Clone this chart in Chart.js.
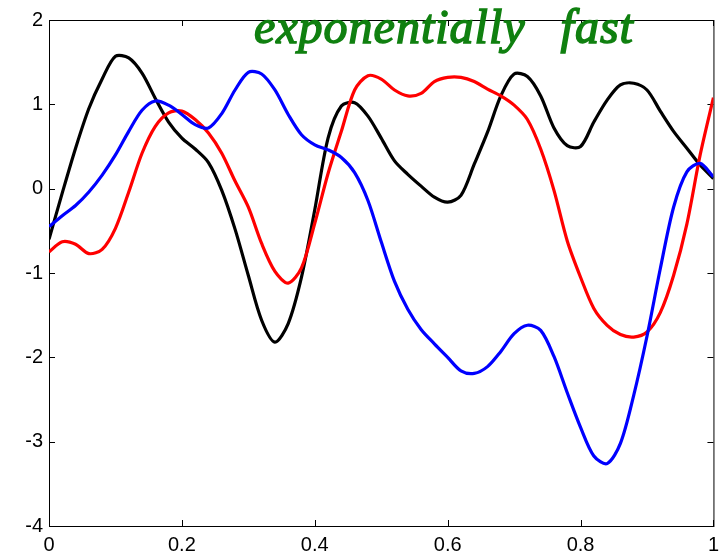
<!DOCTYPE html>
<html>
<head>
<meta charset="utf-8">
<script src="https://cdn.jsdelivr.net/npm/chart.js@4.4.1/dist/chart.umd.min.js"></script>
<style>
  body { margin: 0; background: #fff; }
  #wrap { position: relative; width: 726px; height: 552px; }
  #note {
    position: absolute; left: 254px; top: 4px;
    font: italic 48px "Liberation Serif", serif; line-height: 46px;
    letter-spacing: 1px; word-spacing: 22px;
    color: #108010; -webkit-text-stroke: 1.5px #108010; white-space: nowrap;
  }
</style>
</head>
<body>
<div id="wrap">
  <canvas id="plot" width="726" height="552"></canvas>
  <div id="note">exponentially fast</div>
</div>
<script>
// sample positions, step 0.02
const xs = [0, 0.02, 0.04, 0.06, 0.08, 0.1, 0.12, 0.14, 0.16, 0.18,
  0.2, 0.22, 0.24, 0.26, 0.28, 0.3, 0.32, 0.34, 0.36, 0.38,
  0.4, 0.42, 0.44, 0.46, 0.48, 0.5, 0.52, 0.54, 0.56, 0.58,
  0.6, 0.62, 0.64, 0.66, 0.68, 0.7, 0.72, 0.74, 0.76, 0.78,
  0.8, 0.82, 0.84, 0.86, 0.88, 0.9, 0.92, 0.94, 0.96, 0.98, 1];

const blackLine = [-0.6, -0.05, 0.48, 0.95, 1.3, 1.57, 1.55, 1.37, 1.07, 0.79,
  0.6, 0.47, 0.31, -0.02, -0.48, -1.03, -1.56, -1.82, -1.6, -1.05,
  -0.25, 0.6, 0.98, 1.02, 0.86, 0.6, 0.33, 0.17, 0.03, -0.1,
  -0.16, -0.08, 0.29, 0.67, 1.1, 1.36, 1.33, 1.1, 0.72, 0.51,
  0.5, 0.79, 1.05, 1.23, 1.25, 1.17, 0.92, 0.68, 0.48, 0.28, 0.12];

const blueLine = [-0.45, -0.32, -0.2, -0.04, 0.16, 0.4, 0.68, 0.93, 1.04, 0.99,
  0.88, 0.76, 0.72, 0.89, 1.17, 1.38, 1.36, 1.17, 0.88, 0.64,
  0.52, 0.46, 0.37, 0.19, -0.14, -0.63, -1.1, -1.43, -1.67, -1.84,
  -2.0, -2.16, -2.19, -2.11, -1.93, -1.72, -1.62, -1.68, -1.99, -2.42,
  -2.83, -3.17, -3.26, -3.02, -2.45, -1.75, -0.95, -0.22, 0.2, 0.3, 0.14];

const redLine = [-0.75, -0.63, -0.66, -0.77, -0.72, -0.47, -0.04, 0.42, 0.74, 0.9,
  0.92, 0.82, 0.66, 0.42, 0.09, -0.22, -0.65, -0.98, -1.12, -0.94,
  -0.41, 0.18, 0.68, 1.17, 1.34, 1.3, 1.17, 1.1, 1.13, 1.27,
  1.32, 1.32, 1.27, 1.18, 1.1, 0.99, 0.82, 0.47, -0.02, -0.62,
  -1.05, -1.42, -1.62, -1.73, -1.76, -1.7, -1.47, -1.03, -0.42, 0.4, 1.08];

const xTicks = [0, 0.2, 0.4, 0.6, 0.8, 1];
const yTicks = [-4, -3, -2, -1, 0, 1, 2];

function pts(ys) { return xs.map((x, i) => ({ x: x, y: ys[i] })); }

function line(ys, color) {
  return { data: pts(ys), borderColor: color, borderWidth: 3.2, pointRadius: 0, tension: 0.3, fill: false };
}

// box round the plot with short inward ticks on all four sides
const frameTicks = {
  id: 'frameTicks',
  beforeDatasetsDraw(chart) {
    const { ctx, chartArea: a, scales } = chart;
    const L = 6;
    ctx.save();
    ctx.strokeStyle = '#000';
    ctx.lineWidth = 1;
    ctx.strokeRect(a.left + 0.5, a.top + 0.5, a.right - a.left, a.bottom - a.top);
    ctx.beginPath();
    xTicks.forEach(v => {
      const p = Math.round(scales.x.getPixelForValue(v)) + 0.5;
      ctx.moveTo(p, a.bottom); ctx.lineTo(p, a.bottom - L);
      ctx.moveTo(p, a.top); ctx.lineTo(p, a.top + L);
    });
    yTicks.forEach(v => {
      const p = Math.round(scales.y.getPixelForValue(v)) + 0.5;
      ctx.moveTo(a.left, p); ctx.lineTo(a.left + L, p);
      ctx.moveTo(a.right, p); ctx.lineTo(a.right - L, p);
    });
    ctx.stroke();
    ctx.restore();
  }
};

const tickFont = { family: '"Liberation Sans", Arial, sans-serif', size: 20 };

new Chart(document.getElementById('plot'), {
  type: 'line',
  data: {
    datasets: [line(blueLine, '#0000ff'), line(redLine, '#ff0000'), line(blackLine, '#000000')]
  },
  options: {
    responsive: false,
    animation: false,
    layout: { padding: { top: 20, right: 7, left: 0, bottom: 0 } },
    plugins: { legend: { display: false }, tooltip: { enabled: false } },
    scales: {
      x: {
        type: 'linear', min: 0, max: 1,
        afterBuildTicks: s => { s.ticks = xTicks.map(v => ({ value: v })); },
        afterFit: s => { s.height = 26; },
        grid: { display: false, drawTicks: false },
        border: { display: false },
        ticks: { color: '#000', font: tickFont, padding: 7, maxRotation: 0,
          callback: v => String(+v.toFixed(1)) }
      },
      y: {
        type: 'linear', min: -4, max: 2,
        afterBuildTicks: s => { s.ticks = yTicks.map(v => ({ value: v })); },
        afterFit: s => { s.width = 49; },
        grid: { display: false, drawTicks: false },
        border: { display: false },
        ticks: { color: '#000', font: tickFont, padding: 6, callback: v => String(v) }
      }
    }
  },
  plugins: [frameTicks]
});
</script>
</body>
</html>
